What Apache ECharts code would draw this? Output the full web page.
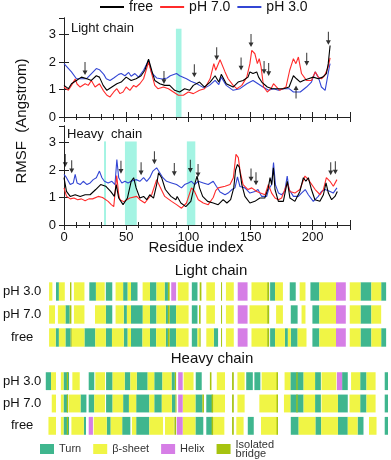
<!DOCTYPE html>
<html lang="en">
<head>
<meta charset="UTF-8">
<title>RMSF</title>
<script src="https://cdn.jsdelivr.net/npm/echarts@6/dist/echarts.min.js"></script>
<style>
  html, body { margin: 0; padding: 0; background: #fff; }
  #main { width: 391px; height: 460px; }
</style>
</head>
<body>
<div id="main"></div>
<script>
// RMSF per residue, [residue, value]
const lightFree = [[0,1.15],[3.5,1.03],[6,1.21],[10,1.33],[14,1.45],[18.5,1.39],[22,1.33],[26,1.5],[28.5,1.45],[31.5,1.15],[34.5,0.97],[38.5,1.09],[42.5,1.21],[46,1.27],[50,1.45],[54,1.33],[58,1.39],[62,1.5],[65,1.7],[68,2.1],[70.5,1.7],[73,1.33],[77,1.21],[81,1.15],[85,1.15],[89,0.97],[93,0.91],[97,1.03],[101,0.97],[104,1.15],[109,1.27],[113,1.09],[117.5,1.27],[121.5,1.5],[124.5,1.27],[126.5,1.55],[130.5,1.21],[136,1.09],[140,1.27],[144,1.33],[148,1.45],[149.5,1.64],[152,1.58],[155,1.64],[156.5,1.45],[159,1.27],[163.5,1.09],[167.5,1.03],[171,1.03],[176.5,1.03],[181,1.09],[184.5,1.5],[187,1.39],[190,1.27],[192.5,1.33],[196.5,1.39],[200.5,1.45],[204.5,1.39],[208,1.45],[211,1.58],[212.5,1.94],[214,2.6]];
const lightPH7 = [[0,1.09],[3.5,0.97],[6,1.15],[9,1.38],[10.5,1.2],[13,1.09],[17,1.21],[19.5,1.15],[22,1.33],[25,1.09],[28.5,1.21],[31.5,0.97],[34.5,0.79],[37,0.73],[40,0.91],[42.5,1.03],[45,0.85],[47.5,0.91],[50,1.09],[53,0.97],[56,1.15],[58,1.09],[61,1.21],[64,1.39],[68,2.0],[70.5,1.58],[73,1.15],[75.5,1.03],[80,1.09],[84,1.03],[88,0.91],[92,0.79],[96,0.79],[100,0.91],[104,0.85],[109,0.97],[113,1.03],[117.5,1.39],[120.5,1.94],[122,1.7],[125.5,2.08],[129.5,1.64],[132,1.39],[136,1.15],[139,1.03],[143,1.15],[147,1.45],[149.5,1.94],[151,2.42],[153.5,2.3],[155.5,1.94],[157,2.12],[158.5,1.82],[160.5,1.09],[163.5,0.91],[166.5,1.03],[168.5,1.21],[171,1.09],[173.5,0.97],[178.5,1.09],[181.5,1.7],[184.5,2.12],[186.5,1.94],[188.5,2.18],[191,1.58],[195,1.33],[199,1.33],[202,1.64],[204.5,1.45],[207,1.39],[209.5,1.5],[212.5,1.82],[214,2.15]];
const lightPH3 = [[0,1.94],[6,1.64],[10,1.39],[18,1.39],[26,1.76],[28.5,1.72],[32,1.55],[34,1.39],[37,1.33],[40,1.42],[44,1.55],[46,1.58],[49,1.5],[52,1.62],[54,1.48],[57,1.58],[60,1.45],[64,1.7],[68,2.06],[70.5,1.6],[74.5,1.42],[79,1.38],[83,1.42],[85.5,1.5],[90.5,1.58],[93,1.5],[98.5,1.39],[102,1.3],[106.5,1.22],[109,1.15],[113,1.05],[117,1.15],[121.5,1.33],[124.5,1.18],[126.5,1.45],[130.5,1.15],[136,0.97],[141.5,1.03],[147,1.21],[152,1.33],[156,1.21],[160,1.09],[164.5,0.97],[168.5,1.03],[172.5,0.97],[176.5,1.03],[181,1.03],[184.5,0.91],[190,0.91],[195,1.09],[199,1.27],[202,1.64],[204.5,1.45],[207,1.09],[210,0.97],[211.5,1.03],[213.4,1.82],[214,1.94]];

const heavyFree = [[0,1.72],[2,1.22],[5,1.04],[9,1.1],[13,1.04],[17,1.1],[21,1.1],[25.5,1.29],[29.5,1.47],[33.5,1.41],[37.5,1.22],[40.5,1.04],[42,1.47],[44,0.98],[47.5,0.74],[51,0.98],[54,1.59],[56,1.72],[58,1.35],[61,0.98],[64,1.04],[66.5,0.92],[69,1.1],[72,0.98],[74.5,1.47],[76,1.9],[78.5,1.72],[81.5,1.29],[86,1.04],[90,0.92],[91,1.04],[94,0.8],[98,0.67],[102,0.86],[105,1.47],[107,1.78],[109,1.35],[111.5,1.04],[115.5,0.86],[120,0.8],[124,0.74],[128,0.92],[131,0.8],[134,0.92],[136.5,1.35],[138,2.0],[139.5,2.2],[141,2.1],[143,1.47],[145.5,1.04],[149.5,0.8],[153.5,0.86],[157.5,0.98],[161.5,0.98],[164.3,1.35],[165.7,1.72],[167,1.47],[168.4,2.08],[169.7,1.29],[172.4,0.86],[176.4,0.86],[179.6,1.59],[181.7,0.98],[185.7,0.86],[189.7,1.22],[192.5,1.72],[194.5,1.59],[196.5,1.72],[199,1.29],[201.8,0.92],[205.8,0.86],[208.6,1.1],[210.7,1.53],[212.6,1.16],[215.2,0.92],[217.9,1.04],[219.8,1.22]];
const heavyPH7 = [[0,1.35],[2,1.05],[5,0.95],[8,0.98],[11,0.92],[14,0.95],[17,0.88],[20,0.95],[23,0.95],[27.5,1.04],[31,1.0],[35.5,0.86],[38,0.74],[40,0.67],[42.4,1.8],[44,1.1],[45,0.92],[48,0.85],[53,0.98],[58.5,1.04],[61,0.92],[65,0.8],[67.5,0.95],[70.5,1.1],[74.5,1.65],[77,1.41],[81,1.04],[86.5,0.86],[90.5,0.74],[94.5,0.61],[98.5,0.8],[102.5,1.35],[105,1.22],[108,0.92],[112,0.8],[116,0.74],[120,1.0],[122,1.25],[124,1.35],[129.5,1.41],[133.5,1.47],[136.2,1.72],[138.3,2.57],[140.2,2.45],[141.6,1.96],[144,1.47],[148,1.29],[151,1.35],[155,1.22],[158,1.16],[161.7,1.1],[164.3,1.47],[167,1.16],[169.7,0.98],[172.4,0.92],[175,0.98],[179.6,1.53],[181.7,1.22],[185.7,1.16],[189.7,1.29],[193.8,1.78],[196.5,1.65],[198,1.72],[202,1.29],[206,1.1],[208.6,1.29],[211,1.72],[213.9,1.59],[216.6,1.41],[219.5,1.65]];
const heavyPH3 = [[0,1.84],[2,1.72],[5,1.47],[7.5,1.53],[9,1.84],[10.5,1.53],[13,1.47],[15.5,1.59],[18.5,1.47],[21,1.53],[23.5,1.65],[26,1.72],[28.5,1.96],[30.5,1.72],[32.5,1.59],[35.5,1.53],[38.5,1.59],[41,1.47],[42.5,2.38],[44,1.72],[46.5,1.53],[49,1.59],[51.5,1.53],[54,1.59],[58,1.65],[61,1.59],[64,1.72],[66.5,1.59],[69,1.72],[71.5,1.96],[74.5,2.08],[77,1.9],[79.5,1.72],[82.5,1.59],[86.5,1.53],[90.5,1.47],[94.5,1.35],[97,1.47],[100,1.53],[102.5,1.59],[105,1.47],[108,1.59],[112,1.53],[116,1.47],[120,1.59],[122.5,1.41],[125.5,1.2],[129.5,1.1],[132,1.16],[135,1.29],[137.5,1.35],[139.5,1.75],[141.5,1.4],[145.5,1.35],[149.5,1.16],[153.5,1.22],[156,1.29],[159,1.04],[163,1.04],[164.5,1.29],[167,1.47],[168.5,2.27],[170,1.47],[172.5,1.16],[175,1.1],[177.5,1.22],[179.5,1.78],[181,1.29],[184.5,1.04],[188.5,1.04],[191,1.16],[194,1.29],[196.5,1.1],[200.5,0.86],[204.5,1.04],[207,1.22],[210,1.29],[211,1.22],[214,1.22],[216.5,1.16],[219.5,1.35]];

// highlighted regions [from, to, top]
const lightBands = [[90, 94.5, 3.21]];
const heavyBands = [[32.2, 33.8, 3.04], [49, 58.5, 3.04], [98.8, 105.6, 3.04]];

// arrow markers [residue, centre height]
const lightArrowsDown = [[16.9,1.76],[80.4,1.44],[104.8,1.68],[122.8,2.3],[142.4,1.93],[150.4,2.78],[160.9,1.8],[164.6,1.73],[195.2,2.1],[212.6,2.86]];
const lightArrowsUp = [[186.6,0.91]];
const heavyArrowsDown = [[1,2.35],[6.2,2.12],[45.8,2.1],[62,2.05],[72.7,2.45],[88.7,2.02],[101.6,2.14],[107.8,1.98],[150.4,1.82],[154.4,1.68],[214.5,2.05],[218.2,2.08]];

// secondary structure: [from, to, type]  T turn, S sheet, H helix, B bridge
const lightRowNames = ['pH 3.0', 'pH 7.0', 'free'];
const lightSsPH3 = [[2.5,4.6,'S'],[6.9,8.75,'T'],[8.75,12.5,'S'],[15.8,16.7,'B'],[18.3,25,'S'],[28.1,32.3,'T'],[32.3,37.9,'S'],[38.6,42.7,'T'],[44.8,49.6,'S'],[49.6,52.5,'T'],[52.5,54.6,'S'],[54.6,58.75,'T'],[62,66.7,'S'],[66.7,70.8,'T'],[70.8,76,'S'],[76,78.1,'T'],[78.1,79.2,'B'],[80.2,83.3,'H'],[84.4,91.25,'S'],[93.3,96.9,'T'],[98.3,99.4,'B'],[102.5,108,'S'],[111.9,112.5,'B'],[115,120,'S'],[122.5,128.75,'H'],[131.25,141.25,'S'],[141.25,142.5,'B'],[143.1,146.25,'T'],[146.25,151.25,'S'],[155.6,159.4,'T'],[161.9,165.6,'S'],[168.75,174.4,'T'],[174.4,185,'S'],[185,191.25,'H'],[193.75,200.6,'S'],[200.6,207.5,'T'],[207.5,213.75,'S'],[213.75,216.9,'T']];
const lightSsPH7 = [[2.5,6.25,'S'],[8.1,12.9,'S'],[12.9,15.6,'T'],[15.6,16.7,'B'],[18.3,25,'S'],[31.7,38.6,'S'],[38.6,42.7,'T'],[44.8,50,'S'],[50,52,'T'],[52,54.6,'S'],[54.6,62.1,'T'],[62.1,66.7,'S'],[66.7,70.8,'T'],[70.8,76.7,'S'],[76.7,78.1,'T'],[78.1,79.2,'B'],[79.2,83.3,'T'],[83.3,91.25,'S'],[93.3,96.9,'T'],[97.9,98.9,'B'],[102.5,108,'S'],[111.9,112.5,'B'],[115,120,'S'],[122.5,128.75,'H'],[130,141.25,'S'],[141.25,142.5,'B'],[146.9,151.25,'S'],[156.25,160.6,'T'],[163.1,165.6,'S'],[170,174.4,'T'],[174.4,185,'S'],[185,191.25,'H'],[193.75,200.6,'S'],[200.6,207.5,'T'],[207.5,213.75,'S']];
const lightSsFree = [[2.5,6.7,'S'],[6.7,8.75,'T'],[8.75,12.9,'S'],[12.9,16.25,'T'],[16.25,16.7,'B'],[16.9,25,'S'],[25,31.9,'T'],[31.9,38.6,'S'],[38.6,42.5,'T'],[42.5,50,'S'],[50,52.5,'T'],[52.5,54.6,'S'],[54.6,61.9,'T'],[61.9,66.7,'S'],[66.7,70.6,'T'],[70.6,76.7,'S'],[76.7,78.1,'T'],[78.1,79.2,'B'],[79.2,83.3,'T'],[83.3,91.25,'S'],[93.3,96.9,'T'],[96.9,98.1,'S'],[98.1,98.9,'B'],[102.5,107.3,'S'],[107.3,110,'T'],[111.9,112.5,'B'],[115,120,'S'],[122.5,128.75,'H'],[131.25,141.25,'S'],[141.25,142.5,'B'],[143.1,146.25,'T'],[146.25,152.5,'S'],[152.5,154.4,'T'],[154.4,156.25,'S'],[156.25,160.6,'T'],[160.6,166.25,'S'],[170,174.4,'T'],[174.4,185,'S'],[185,191.25,'H'],[193.75,200.6,'S'],[200.6,207.5,'T'],[207.5,213.75,'S'],[213.75,216.9,'T']];

const heavySsPH3 = [[0.4,3.75,'T'],[3.75,6.9,'S'],[10,11.7,'S'],[11.7,15.2,'T'],[13.75,14.6,'B'],[17.3,22,'S'],[27.7,31.25,'T'],[31.9,38.1,'S'],[38.75,42.9,'T'],[42.9,50.6,'S'],[50.6,54.2,'T'],[54.2,58.3,'S'],[58.3,65.2,'T'],[65.2,69.4,'S'],[69.4,74.6,'T'],[74.6,80.4,'S'],[80.4,82.5,'T'],[82.5,83.3,'B'],[84.6,87.5,'H'],[88.1,94.4,'S'],[95.8,99.6,'T'],[104.8,105.8,'B'],[109.2,114.4,'S'],[118.9,120,'B'],[122.3,126.9,'S'],[127.9,132.1,'T'],[133.1,136.9,'T'],[137.7,147.7,'S'],[147.2,148.1,'B'],[152.3,156,'S'],[156,164.4,'T'],[159.8,160.6,'B'],[164.4,171.7,'S'],[171.7,175.4,'T'],[175.8,185.2,'S'],[185.6,188.9,'H'],[188.9,192.5,'T'],[194.6,200.4,'S'],[200.4,204.4,'T'],[204.4,210.2,'S'],[216,218.1,'T']];
const heavySsPH7 = [[4.2,6.9,'S'],[10,11.7,'S'],[11.7,14.6,'T'],[13.75,14.6,'B'],[15,22.5,'S'],[22.5,26.25,'T'],[27.7,31.25,'T'],[31.25,38.1,'S'],[38.75,42.9,'T'],[42.9,49.6,'S'],[49.6,53.3,'T'],[53.3,57.9,'S'],[57.9,66.25,'T'],[66.25,69.4,'S'],[69.4,74.2,'T'],[74.2,80.6,'S'],[80.6,82.9,'T'],[82.9,83.5,'B'],[84.6,87.5,'H'],[87.5,95.6,'S'],[95.6,100,'T'],[100,101,'B'],[102.5,106.6,'T'],[105.9,106.9,'B'],[106.9,114.4,'S'],[118.9,120,'B'],[122.3,126.9,'S'],[136.25,147.7,'S'],[147.2,148.1,'B'],[151.9,156,'S'],[156,164.4,'T'],[159.8,160.6,'B'],[164.4,171.7,'S'],[171.7,175.4,'T'],[175.8,186.25,'S'],[186.25,192.5,'T'],[193.6,200.4,'S'],[200.4,204.4,'T'],[204.4,210.2,'S'],[216,218.1,'T']];
const heavySsFree = [[2.1,6.9,'S'],[10,11.7,'S'],[11.7,15.2,'T'],[13.75,14.6,'B'],[16.7,24.6,'S'],[24.6,26,'T'],[27.7,30.4,'H'],[30.9,39.2,'S'],[39.2,41.7,'T'],[41.7,49,'S'],[49,54.2,'T'],[55.2,57.9,'S'],[57.9,66.25,'T'],[66.25,75,'S'],[76.25,81.9,'S'],[82.2,83.3,'B'],[83.75,87.5,'H'],[87.5,95.6,'S'],[95.6,100.6,'T'],[102.5,106.6,'T'],[105.9,106.9,'B'],[106.9,114,'S'],[118.9,120,'B'],[121.6,126.25,'S'],[128.9,132.7,'T'],[137.3,147.7,'S'],[147.2,148.1,'B'],[156.25,161.25,'T'],[161.25,171.9,'S'],[171.9,175.6,'T'],[175.6,186.25,'S'],[186.25,192.5,'T'],[192.5,198.75,'S'],[198.75,202.5,'T'],[206,210.8,'S'],[216,218.1,'T']];

const ssTypes = ['T', 'S', 'H', 'B'];
const ssNames = ['Turn', 'β-sheet', 'Helix', 'Isolated\nbridge'];
const ssColors = ['#3fb68e', '#f0f545', '#d67ee6', '#a6c30f'];

const FONT = 'Liberation Sans, Arial, sans-serif';
const chart = echarts.init(document.getElementById('main'));

function segsOf(rows, type) {
    const out = [];
    rows.forEach((row, i) => {
        row.forEach(s => { if (s[2] === type) out.push([s[0], s[1], i]); });
    });
    return out;
}

function drawSeg(params, api) {
    const a = api.coord([api.value(0), api.value(2)]);
    const b = api.coord([api.value(1), api.value(2)]);
    const h = api.size([0, 1])[1] * 0.8;
    return {
        type: 'rect',
        shape: { x: a[0], y: a[1] - h / 2, width: Math.max(b[0] - a[0], 1), height: h },
        style: api.style()
    };
}

function drawBand(params, api) {
    const a = api.coord([api.value(0), api.value(2)]);
    const b = api.coord([api.value(1), 0]);
    return {
        type: 'rect',
        shape: { x: a[0], y: a[1], width: b[0] - a[0], height: b[1] - a[1] },
        style: { fill: '#a4f4e3' }
    };
}

const arrowPath = 'path://M2,0 L3,0 L3,9 L5,9 L2.5,14 L0,9 L2,9 Z';

function xAx(grid, pos, labels) {
    return {
        type: 'value', gridIndex: grid, position: pos, min: 0, max: 230, interval: 50,
        axisLine: { show: true, lineStyle: { color: '#222', width: 1 } },
        axisTick: { inside: true, length: 5, lineStyle: { color: '#222' } },
        minorTick: { show: true, splitNumber: 5, length: 3, lineStyle: { color: '#222' } },
        axisLabel: { show: labels, showMaxLabel: false, color: '#111', fontSize: 13, fontFamily: FONT, margin: 6 },
        splitLine: { show: false }
    };
}
function yAx(grid, pos, labels) {
    return {
        type: 'value', gridIndex: grid, position: pos, min: 0, max: 3.6, interval: 1,
        axisLine: { show: true, lineStyle: { color: '#222', width: 1 } },
        axisTick: { inside: true, length: 5, lineStyle: { color: '#222' } },
        axisLabel: { show: labels, showMaxLabel: false, color: '#111', fontSize: 13, fontFamily: FONT, margin: 8 },
        splitLine: { show: false }
    };
}
function ssX(grid) {
    return { type: 'value', gridIndex: grid, min: 0, max: 220, show: false };
}
function ssY(grid) {
    return {
        type: 'category', gridIndex: grid, data: lightRowNames, inverse: true,
        axisLine: { show: false }, axisTick: { show: false },
        axisLabel: { color: '#111', fontSize: 13, fontFamily: FONT, align: 'center', margin: 23 }
    };
}

function lineSeries(name, data, color, axis) {
    return {
        name: name, type: 'line', data: data, xAxisIndex: axis, yAxisIndex: axis,
        showSymbol: false, smooth: false, z: 3,
        lineStyle: { color: color, width: 1.1 }, itemStyle: { color: color }
    };
}

const series = [
    { type: 'custom', renderItem: drawBand, data: lightBands, xAxisIndex: 0, yAxisIndex: 0, z: 1, silent: true },
    { type: 'custom', renderItem: drawBand, data: heavyBands, xAxisIndex: 2, yAxisIndex: 2, z: 1, silent: true },
    lineSeries('pH 3.0', lightPH3, '#3346d4', 0),
    lineSeries('pH 7.0', lightPH7, '#ff2b2b', 0),
    lineSeries('free', lightFree, '#000000', 0),
    lineSeries('pH 3.0', heavyPH3, '#3346d4', 2),
    lineSeries('pH 7.0', heavyPH7, '#ff2b2b', 2),
    lineSeries('free', heavyFree, '#000000', 2),
    { type: 'scatter', data: lightArrowsDown, xAxisIndex: 0, yAxisIndex: 0, symbol: arrowPath, symbolSize: [5, 13], itemStyle: { color: '#000' }, z: 5 },
    { type: 'scatter', data: lightArrowsUp, xAxisIndex: 0, yAxisIndex: 0, symbol: arrowPath, symbolSize: [5, 13], symbolRotate: 180, itemStyle: { color: '#000' }, z: 5 },
    { type: 'scatter', data: heavyArrowsDown, xAxisIndex: 2, yAxisIndex: 2, symbol: arrowPath, symbolSize: [5, 13], itemStyle: { color: '#000' }, z: 5 }
];

const lightRows = [lightSsPH3, lightSsPH7, lightSsFree];
const heavyRows = [heavySsPH3, heavySsPH7, heavySsFree];
ssTypes.forEach((t, k) => {
    [[lightRows, 4], [heavyRows, 5]].forEach(([rows, ax]) => {
        series.push({
            name: ssNames[k], type: 'custom', renderItem: drawSeg,
            xAxisIndex: ax, yAxisIndex: ax,
            encode: { x: [0, 1], y: 2 },
            data: segsOf(rows, t),
            itemStyle: { color: ssColors[k] },
            z: k === 3 ? 4 : 2
        });
    });
});

const option = {
    animation: false,
    backgroundColor: '#fff',
    textStyle: { fontFamily: FONT },
    grid: [
        { left: 64, top: 18, width: 286, height: 99 },
        { left: 64, top: 126, width: 286, height: 99 },
        { left: 40, top: 280, width: 352, height: 69 },
        { left: 40, top: 370, width: 352, height: 67 }
    ],
    xAxis: [
        xAx(0, 'bottom', false), xAx(0, 'top', false),
        xAx(1, 'bottom', true), xAx(1, 'top', false),
        ssX(2), ssX(3)
    ],
    yAxis: [
        yAx(0, 'left', true), yAx(0, 'right', false),
        yAx(1, 'left', true), yAx(1, 'right', false),
        ssY(2), ssY(3)
    ],
    legend: [
        {
            data: ['free', 'pH 7.0', 'pH 3.0'], left: 100, top: 0, padding: 0,
            icon: 'rect', itemWidth: 24, itemHeight: 2, itemGap: 7,
            textStyle: { fontSize: 14, color: '#111', fontFamily: FONT }
        },
        {
            data: ssNames, left: 40, top: 439, padding: 0,
            icon: 'rect', itemWidth: 14, itemHeight: 10, itemGap: 12,
            textStyle: { fontSize: 11, color: '#333', lineHeight: 9, fontFamily: FONT }
        }
    ],
    graphic: [
        { type: 'text', left: 71, top: 22, style: { text: 'Light chain', fontSize: 13, fill: '#111', fontFamily: FONT } },
        { type: 'text', left: 67, top: 128, style: { text: 'Heavy  chain', fontSize: 13, fill: '#111', fontFamily: FONT } },
        { type: 'text', x: 196, y: 248, style: { text: 'Residue index', fontSize: 15, fill: '#111', fontFamily: FONT, align: 'center', verticalAlign: 'middle' } },
        { type: 'text', x: 22, y: 121, rotation: Math.PI / 2, style: { text: 'RMSF  (Angstrom)', fontSize: 15, fill: '#111', fontFamily: FONT, align: 'center', verticalAlign: 'middle' } },
        { type: 'text', x: 211, y: 271, style: { text: 'Light chain', fontSize: 15, fill: '#111', fontFamily: FONT, align: 'center', verticalAlign: 'middle' } },
        { type: 'text', x: 212, y: 359, style: { text: 'Heavy chain', fontSize: 15, fill: '#111', fontFamily: FONT, align: 'center', verticalAlign: 'middle' } }
    ],
    series: series
};
chart.setOption(option);
</script>
</body>
</html>
